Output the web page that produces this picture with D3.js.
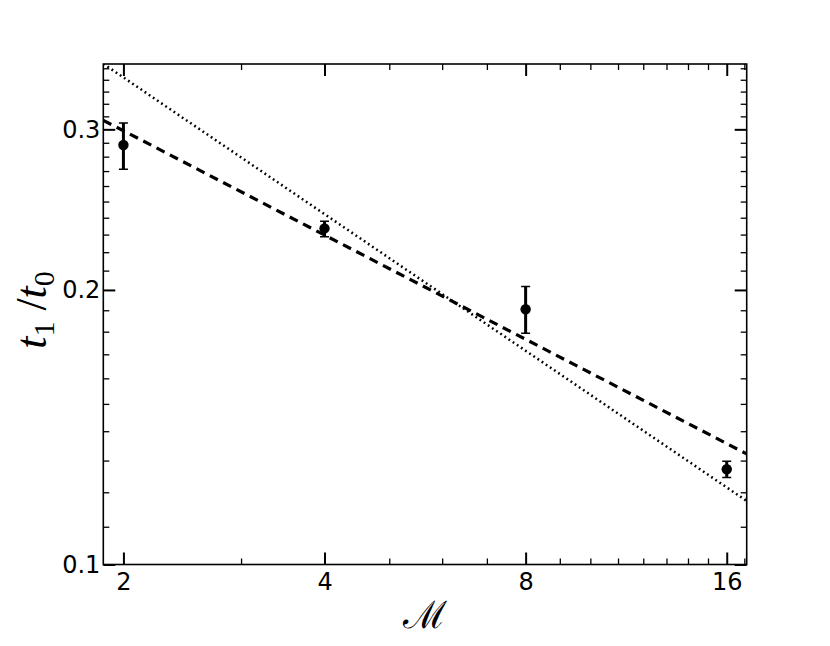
<!DOCTYPE html>
<html>
<head>
<meta charset="utf-8">
<script src="https://cdn.jsdelivr.net/npm/d3@7"></script>
<style>
  html, body { margin: 0; padding: 0; background: #fff; }
  svg { display: block; }
</style>
</head>
<body>
<script>
// ---- data ----
const mValues   = [2, 4, 8, 16];
const tRatio    = [0.2884, 0.2336, 0.1905, 0.1272];
const errLow    = [0.2712, 0.2287, 0.1793, 0.1246];
const errHigh   = [0.3049, 0.2378, 0.2017, 0.1298];

const fitM      = [1.866, 17.14];
const dashedFit = [0.3069, 0.1322];
const dottedFit = [0.3540, 0.1174];

const xMajorTicks = [2, 4, 8, 16];
const xMinorTicks = [3, 5, 6, 7, 9, 10, 11, 12, 13, 14, 15, 17];
const yMajorTicks = [0.1, 0.2, 0.3];
const yMinorTicks = [0.11, 0.12, 0.13, 0.14, 0.15, 0.16, 0.17, 0.18, 0.19,
                     0.21, 0.22, 0.23, 0.24, 0.25, 0.26, 0.27, 0.28, 0.29,
                     0.31, 0.32, 0.33, 0.34, 0.35];
const xDomain = [1.866, 17.14];
const yDomain = [0.1, 0.3538];

// ---- layout ----
const W = 830, H = 646;
const pL = 103.3, pR = 746.7, pT = 64, pB = 564.5;

const svg = d3.select("body").append("svg")
  .attr("width", W).attr("height", H);

const x = d3.scaleLog().domain(xDomain).range([pL, pR]);
const y = d3.scaleLog().domain(yDomain).range([pB, pT]);

svg.append("defs").append("clipPath").attr("id", "clip")
  .append("rect").attr("x", pL).attr("y", pT)
  .attr("width", pR - pL).attr("height", pB - pT);

const fontTick = "DejaVu Sans, sans-serif";

function styleAxis(g, major) {
  g.select(".domain").remove();
  g.selectAll(".tick line").attr("stroke", "#000").attr("stroke-width", major ? 2 : 1.3);
  g.selectAll(".tick text").attr("font-family", fontTick).attr("font-size", 24).attr("fill", "#000");
}

const xMinorIn = xMinorTicks.filter(v => v <= xDomain[1]);

// bottom
svg.append("g").attr("transform", `translate(0,${pB})`)
  .call(d3.axisBottom(x).tickValues(xMajorTicks).tickFormat(d3.format("d"))
        .tickSizeInner(-12).tickSizeOuter(0).tickPadding(8))
  .call(g => styleAxis(g, true));
svg.append("g").attr("transform", `translate(0,${pB})`)
  .call(d3.axisBottom(x).tickValues(xMinorIn).tickFormat("")
        .tickSizeInner(-6).tickSizeOuter(0))
  .call(g => styleAxis(g, false));
// top
svg.append("g").attr("transform", `translate(0,${pT})`)
  .call(d3.axisTop(x).tickValues(xMajorTicks).tickFormat("")
        .tickSizeInner(-12).tickSizeOuter(0))
  .call(g => styleAxis(g, true));
svg.append("g").attr("transform", `translate(0,${pT})`)
  .call(d3.axisTop(x).tickValues(xMinorIn).tickFormat("")
        .tickSizeInner(-6).tickSizeOuter(0))
  .call(g => styleAxis(g, false));
// left
svg.append("g").attr("transform", `translate(${pL},0)`)
  .call(d3.axisLeft(y).tickValues(yMajorTicks).tickFormat(d3.format(".1f"))
        .tickSizeInner(-12).tickSizeOuter(0).tickPadding(3))
  .call(g => styleAxis(g, true));
svg.append("g").attr("transform", `translate(${pL},0)`)
  .call(d3.axisLeft(y).tickValues(yMinorTicks).tickFormat("")
        .tickSizeInner(-6).tickSizeOuter(0))
  .call(g => styleAxis(g, false));
// right
svg.append("g").attr("transform", `translate(${pR},0)`)
  .call(d3.axisRight(y).tickValues(yMajorTicks).tickFormat("")
        .tickSizeInner(-12).tickSizeOuter(0))
  .call(g => styleAxis(g, true));
svg.append("g").attr("transform", `translate(${pR},0)`)
  .call(d3.axisRight(y).tickValues(yMinorTicks).tickFormat("")
        .tickSizeInner(-6).tickSizeOuter(0))
  .call(g => styleAxis(g, false));

// frame
svg.append("rect").attr("x", pL).attr("y", pT)
  .attr("width", pR - pL).attr("height", pB - pT)
  .attr("fill", "none").attr("stroke", "#000").attr("stroke-width", 1.6);

// fit lines
const plot = svg.append("g").attr("clip-path", "url(#clip)");
const line = d3.line().x(d => x(d[0])).y(d => y(d[1]));

plot.append("path")
  .datum(fitM.map((m, i) => [m, dottedFit[i]]))
  .attr("d", line).attr("fill", "none").attr("stroke", "#000")
  .attr("stroke-width", 2.5).attr("stroke-dasharray", "1.8,3.2");

plot.append("path")
  .datum(fitM.map((m, i) => [m, dashedFit[i]]))
  .attr("d", line).attr("fill", "none").attr("stroke", "#000")
  .attr("stroke-width", 3.2).attr("stroke-dasharray", "9,6");

// error bars + points
const pts = mValues.map((m, i) => ({m, v: tRatio[i], lo: errLow[i], hi: errHigh[i]}));
const eb = plot.append("g");
eb.selectAll("line.stem").data(pts).join("line").attr("class", "stem")
  .attr("x1", d => x(d.m)).attr("x2", d => x(d.m))
  .attr("y1", d => y(d.lo)).attr("y2", d => y(d.hi))
  .attr("stroke", "#000").attr("stroke-width", 3);
["lo", "hi"].forEach(k => {
  eb.selectAll("line.cap" + k).data(pts).join("line").attr("class", "cap" + k)
    .attr("x1", d => x(d.m) - 4.5).attr("x2", d => x(d.m) + 4.5)
    .attr("y1", d => y(d[k])).attr("y2", d => y(d[k]))
    .attr("stroke", "#000").attr("stroke-width", 1.5);
});
eb.selectAll("circle").data(pts).join("circle")
  .attr("cx", d => x(d.m)).attr("cy", d => y(d.v)).attr("r", 5.2)
  .attr("fill", "#000");

// axis labels
svg.append("text")
  .attr("x", (pL + pR) / 2).attr("y", 628)
  .attr("text-anchor", "middle")
  .attr("font-family", "DejaVu Serif, serif")
  .attr("font-size", 38).text("ℳ");

const yl = svg.append("text")
  .attr("transform", `translate(46,310) rotate(-90)`)
  .attr("text-anchor", "middle")
  .attr("font-family", "Liberation Serif, serif")
  .attr("font-size", 44);
yl.append("tspan").attr("font-style", "italic").text("t");
yl.append("tspan").attr("font-size", 30).attr("dy", 8).text("1");
yl.append("tspan").attr("dy", -8).text(" /");
yl.append("tspan").attr("font-style", "italic").text("t");
yl.append("tspan").attr("font-size", 30).attr("dy", 8).text("0");
</script>
</body>
</html>
